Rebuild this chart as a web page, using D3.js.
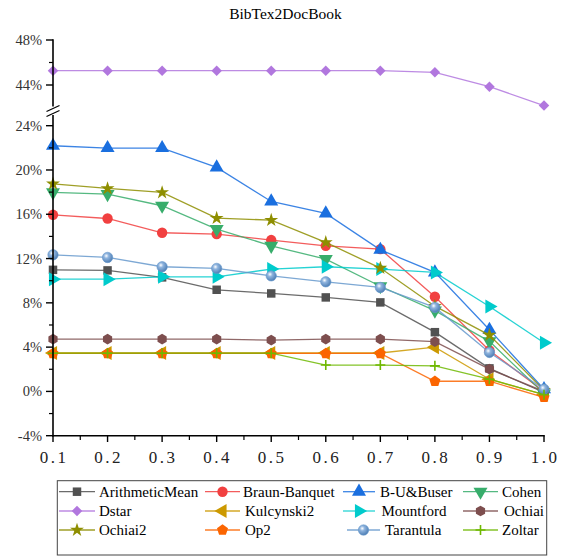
<!DOCTYPE html>
<html><head><meta charset="utf-8">
<script src="https://cdn.jsdelivr.net/npm/d3@7/dist/d3.min.js"></script>
<style>body{margin:0;background:#fff}svg{display:block}</style>
</head><body>
<svg id="c" width="565" height="557"></svg>
<script>
const xValues = [0.1,0.2,0.3,0.4,0.5,0.6,0.7,0.8,0.9,1.0];
const xTickLabels = ["0.1","0.2","0.3","0.4","0.5","0.6","0.7","0.8","0.9","1.0"];
const seriesNames = ["ArithmeticMean","Braun-Banquet","B-U&Buser","Cohen","Dstar","Kulcynski2","Mountford","Ochiai","Ochiai2","Op2","Tarantula","Zoltar"];
const arithmeticMean = [10.98,10.93,10.30,9.18,8.85,8.49,8.04,5.35,2.08,-0.1];
const braunBanquet   = [15.95,15.62,14.33,14.21,13.67,13.15,12.85,8.55,3.7,0.0];
const buBuser        = [22.19,21.98,21.98,20.23,17.16,16.08,12.79,10.75,5.57,0.2];
const cohen          = [17.98,17.82,16.77,14.66,13.15,11.95,9.5,7.3,4.52,-0.2];
const dstar          = [45.27,45.27,45.27,45.27,45.27,45.27,45.27,45.13,43.85,42.17];
const kulcynski2     = [3.47,3.47,3.47,3.47,3.47,3.47,3.47,4.0,1.1,-0.3];
const mountford      = [10.14,10.14,10.35,10.35,11.05,11.26,11.05,10.75,7.67,4.4];
const ochiai         = [4.72,4.72,4.72,4.72,4.63,4.72,4.72,4.5,2.01,0.0];
const ochiai2        = [18.75,18.33,17.97,15.65,15.47,13.46,11.14,7.7,5.09,0.1];
const op2            = [3.43,3.43,3.43,3.43,3.43,3.43,3.43,0.92,0.92,-0.54];
const tarantula      = [12.34,12.1,11.26,11.11,10.44,9.9,9.39,7.59,3.52,0.2];
const zoltar         = [3.45,3.45,3.45,3.45,3.45,2.38,2.38,2.31,1.11,-0.3];
const yTicksLow = [-4,0,4,8,12,16,20,24];
const yTicksHigh = [44,48];

const seriesValues = [arithmeticMean,braunBanquet,buBuser,cohen,dstar,kulcynski2,mountford,ochiai,ochiai2,op2,tarantula,zoltar];
const colors = ["#515151","#F14040","#1A6FDF","#37AD6B","#B177DE","#CC9900","#00CBCC","#7D4E4E","#8E8E00","#FB6501","#6699CC","#6FB802"];
const shapes = ["square","circle","triUp","triDown","diamond","triLeft","triRight","hexagon","star","pentagon","sphere","plus"];
const FONT = "Liberation Serif";

const svg = d3.select("#c");
const defs = svg.append("defs");
const rg = defs.append("radialGradient").attr("id","sph").attr("cx","0.38").attr("cy","0.35").attr("r","0.65");
rg.append("stop").attr("offset","0%").attr("stop-color","#ffffff");
rg.append("stop").attr("offset","35%").attr("stop-color","#8fb4de");
rg.append("stop").attr("offset","100%").attr("stop-color","#4f7fb5");

const x = d3.scaleLinear().domain([0.1,1.0]).range([53,544]);
const yLow = d3.scaleLinear().domain([-4,24]).range([435.7,125.7]);
const yHigh = d3.scaleLinear().domain([44,48]).range([85,40]);
const yOf = v => v >= 30 ? yHigh(v) : yLow(v);

function markerPath(shape){
  const s = d3.symbol();
  switch(shape){
    case "square": return s.type(d3.symbolSquare).size(72)();
    case "circle": return s.type(d3.symbolCircle).size(85)();
    case "triUp": case "triDown": case "triLeft": case "triRight":
      return s.type(d3.symbolTriangle).size(85)();
    case "diamond": return s.type(d3.symbolSquare).size(55)();
    case "star": return s.type(d3.symbolStar).size(60)();
    case "plus": return "M-5,0H5M0,-5V5";
    case "hexagon": {
      const r=5.3; return d3.range(6).map(i=>{const a=Math.PI/6+i*Math.PI/3;return (i?"L":"M")+(r*Math.cos(a)).toFixed(2)+","+(r*Math.sin(a)).toFixed(2);}).join("")+"Z";
    }
    case "pentagon": {
      const r=5.8; return d3.range(5).map(i=>{const a=-Math.PI/2+i*2*Math.PI/5;return (i?"L":"M")+(r*Math.cos(a)).toFixed(2)+","+(r*Math.sin(a)).toFixed(2);}).join("")+"Z";
    }
    case "sphere": return s.type(d3.symbolCircle).size(85)();
  }
}
function rot(shape){
  return {triDown:180, triLeft:-90, triRight:90, diamond:45}[shape] || 0;
}
function drawMarker(g, shape, color, cx, cy){
  const p = g.append("path").attr("d", markerPath(shape))
    .attr("transform", `translate(${cx},${cy}) rotate(${rot(shape)})`);
  if(shape==="plus") p.attr("fill","none").attr("stroke",color).attr("stroke-width",1.6);
  else if(shape==="sphere") p.attr("fill","url(#sph)").attr("stroke","#6699CC").attr("stroke-width",0.6);
  else p.attr("fill",color);
}

// series
const plot = svg.append("g");
seriesValues.forEach((vals,i)=>{
  const g = plot.append("g");
  const line = d3.line().x((d,j)=>x(xValues[j])).y(d=>yOf(d));
  g.append("path").attr("d", line(vals)).attr("fill","none")
    .attr("stroke", colors[i]).attr("stroke-width",1.3).attr("stroke-opacity",0.85);
  vals.forEach((v,j)=>drawMarker(g, shapes[i], colors[i], x(xValues[j]), yOf(v)));
});

// axes
const ax = svg.append("g").attr("stroke","#000");
ax.append("line").attr("x1",53).attr("x2",53).attr("y1",115).attr("y2",436.5).attr("stroke-width",1.6);
ax.append("line").attr("x1",53).attr("x2",53).attr("y1",39.2).attr("y2",106.5).attr("stroke-width",1.6);
[108.5,113.5].forEach(b=>ax.append("line").attr("x1",46.5).attr("x2",59.5).attr("y1",b+3).attr("y2",b-3).attr("stroke-width",1.2));
ax.append("line").attr("x1",52.2).attr("x2",544.8).attr("y1",435.7).attr("y2",435.7).attr("stroke-width",1.6);

yTicksLow.forEach(t=>{
  ax.append("line").attr("x1",46).attr("x2",53).attr("y1",yLow(t)).attr("y2",yLow(t)).attr("stroke-width",1.4);
  if(t<24) ax.append("line").attr("x1",49).attr("x2",53).attr("y1",yLow(t+2)).attr("y2",yLow(t+2)).attr("stroke-width",1.2);
});
yTicksHigh.forEach(t=>{
  ax.append("line").attr("x1",46).attr("x2",53).attr("y1",yHigh(t)).attr("y2",yHigh(t)).attr("stroke-width",1.4);
});
ax.append("line").attr("x1",49).attr("x2",53).attr("y1",yHigh(46)).attr("y2",yHigh(46)).attr("stroke-width",1.2);
xValues.forEach((t,i)=>{
  ax.append("line").attr("x1",x(t)).attr("x2",x(t)).attr("y1",435.7).attr("y2",442).attr("stroke-width",1.4);
  if(i<xValues.length-1) ax.append("line").attr("x1",x(t+0.05)).attr("x2",x(t+0.05)).attr("y1",435.7).attr("y2",440).attr("stroke-width",1.2);
});

const lab = svg.append("g");
yTicksLow.forEach(t=>lab.append("text").attr("x",42).attr("y",yLow(t)).attr("dy","0.35em")
  .attr("font-family",FONT).attr("text-anchor","end").attr("font-size",14.5).attr("fill","#333").text(t+"%"));
yTicksHigh.forEach(t=>lab.append("text").attr("x",42).attr("y",yHigh(t)).attr("dy","0.35em")
  .attr("font-family",FONT).attr("text-anchor","end").attr("font-size",14.5).attr("fill","#333").text(t+"%"));
xValues.forEach((t,i)=>lab.append("text").attr("x",x(t)+1).attr("y",463).attr("text-anchor","middle")
  .attr("font-family",FONT).attr("font-size",17).attr("letter-spacing","2.5px").attr("fill","#222").text(xTickLabels[i]));
lab.append("text").attr("x",285.5).attr("y",19).attr("text-anchor","middle").attr("font-size",15.5)
  .attr("font-family",FONT).attr("fill","#000").text("BibTex2DocBook");

// legend
const lg = svg.append("g");
lg.append("rect").attr("x",57.3).attr("y",480.7).attr("width",489.4).attr("height",74.3)
  .attr("fill","#fff").attr("stroke","#444").attr("stroke-width",1);
const colLine = [[59,95],[205,240],[343,375],[463,498]];
const colText = [99,243,380,502];
const rowY = [491.7,511,530];
seriesNames.forEach((n,i)=>{
  const r = Math.floor(i/4), c = i%4;
  let [a,b] = colLine[c]; let tx = colText[c];
  if(n==="Tarantula"){a=347;b=380;tx=385;}
  if(n==="Mountford"){tx=381.5;}
  if(n==="Ochiai"){tx=504;}
  if(n==="Kulcynski2"||n==="Op2"){tx=245;}
  const y = rowY[r];
  const g = lg.append("g");
  g.append("line").attr("x1",a).attr("x2",b).attr("y1",y).attr("y2",y)
    .attr("stroke",colors[i]).attr("stroke-width",1.3).attr("stroke-opacity",0.85);
  drawMarker(g, shapes[i], colors[i], (a+b)/2, y);
  g.append("text").attr("x",tx).attr("y",y).attr("dy","0.35em")
    .attr("font-family",FONT).attr("font-size",15).attr("fill","#000").text(n);
});
</script>
</body></html>
